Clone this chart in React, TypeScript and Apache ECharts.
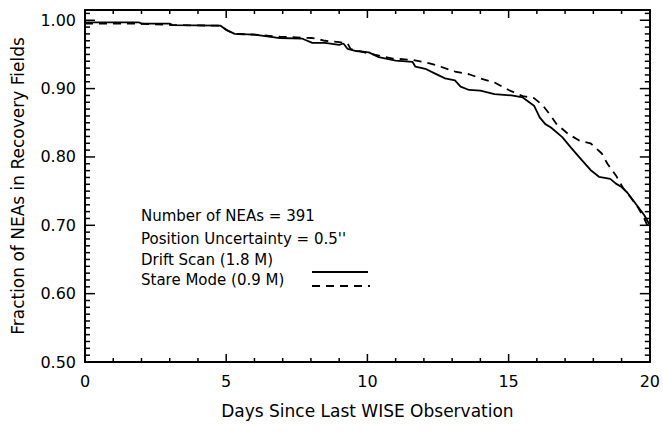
import React, { useEffect, useRef } from "react";
import * as echarts from "echarts";

const xMin = 0;
const xMax = 20;
const xMajorStep = 5;
const xMinorStep = 1;
const yMin = 0.5;
const yMax = 1.015;
const yMajorStep = 0.1;
const yMinorStep = 0.01;

const driftDays = [0, 1.9, 2.0, 3.0, 3.1, 4.8, 5.0, 5.3, 6.0, 6.9, 7.7, 8.05, 8.5, 9.0, 9.15, 9.3, 9.6, 10.05, 10.4, 11.0, 11.6, 11.7, 12.05, 12.4, 12.75, 13.1, 13.3, 13.6, 14.0, 14.5, 15.1, 15.5, 15.9, 16.1, 16.3, 16.5, 16.9, 17.2, 17.6, 17.9, 18.2, 18.6, 18.8, 19.0, 19.2, 19.4, 19.6, 19.8, 20.0];
const driftFrac = [0.997, 0.997, 0.995, 0.995, 0.993, 0.992, 0.986, 0.980, 0.979, 0.974, 0.973, 0.967, 0.967, 0.964, 0.966, 0.958, 0.955, 0.953, 0.946, 0.941, 0.939, 0.932, 0.929, 0.922, 0.915, 0.912, 0.903, 0.898, 0.897, 0.892, 0.890, 0.887, 0.875, 0.858, 0.848, 0.843, 0.829, 0.814, 0.795, 0.781, 0.771, 0.768, 0.761, 0.756, 0.748, 0.737, 0.726, 0.715, 0.700];

const stareDays = [0, 1.9, 3.1, 4.8, 5.0, 5.3, 6.0, 6.9, 8.05, 8.5, 9.0, 9.3, 9.4, 10.0, 10.9, 11.6, 12.2, 12.6, 13.1, 13.6, 14.0, 14.5, 15.0, 15.5, 15.9, 16.2, 16.5, 16.7, 17.1, 17.5, 17.9, 18.3, 18.5, 18.8, 19.05, 19.3, 19.6, 19.8, 20.0];
const stareFrac = [0.995, 0.995, 0.993, 0.992, 0.986, 0.980, 0.979, 0.976, 0.974, 0.970, 0.968, 0.966, 0.958, 0.952, 0.944, 0.942, 0.937, 0.932, 0.925, 0.921, 0.915, 0.909, 0.898, 0.889, 0.886, 0.876, 0.860, 0.848, 0.834, 0.824, 0.820, 0.805, 0.790, 0.773, 0.755, 0.742, 0.725, 0.710, 0.692];

const legendLines = [
  "Number of NEAs = 391",
  "Position Uncertainty = 0.5''",
  "Drift Scan (1.8 M)",
  "Stare Mode (0.9 M)",
];

const FONT = "DejaVu Sans";

// tick positions with pixel lengths
function xTickList(): number[][] {
  const out: number[][] = [];
  const nx = Math.round((xMax - xMin) / xMinorStep);
  const every = Math.round(xMajorStep / xMinorStep);
  for (let i = 0; i <= nx; i++) out.push([xMin + i * xMinorStep, i % every === 0 ? 8 : 4]);
  return out;
}
function yTickList(): number[][] {
  const out: number[][] = [];
  const ny = Math.floor((yMax - yMin) / yMinorStep + 1e-9);
  const every = Math.round(yMajorStep / yMinorStep);
  for (let i = 0; i <= ny; i++) out.push([yMin + i * yMinorStep, i % every === 0 ? 10 : 5]);
  return out;
}

export default function App() {
  const ref = useRef<HTMLDivElement>(null);
  useEffect(() => {
    if (!ref.current) return;
    const chart = echarts.init(ref.current, undefined, { renderer: "svg" });
    const black = "#000";
    const xAx = (pos: string, labels: boolean) => ({
      type: "value",
      position: pos,
      min: xMin,
      max: xMax,
      interval: xMajorStep,
      axisLine: { show: true, onZero: false, lineStyle: { color: black, width: 2 } },
      axisTick: { show: false },
      axisLabel: { show: labels, color: black, fontFamily: FONT, fontSize: 16, margin: 11 },
      splitLine: { show: false },
      ...(labels
        ? {
            name: "Days Since Last WISE Observation",
            nameLocation: "middle",
            nameGap: 40,
            nameTextStyle: { color: black, fontFamily: FONT, fontSize: 17 },
          }
        : {}),
    });
    const yAx = (pos: string, labels: boolean) => ({
      type: "value",
      position: pos,
      min: yMin,
      max: yMax,
      interval: yMajorStep,
      axisLine: { show: true, onZero: false, lineStyle: { color: black, width: 2 } },
      axisTick: { show: false },
      axisLabel: {
        show: labels,
        color: black,
        fontFamily: FONT,
        fontSize: 16,
        margin: 9,
        showMaxLabel: false,
        formatter: (v: number) => v.toFixed(2),
      },
      splitLine: { show: false },
      ...(labels
        ? {
            name: "Fraction of NEAs in Recovery Fields",
            nameLocation: "middle",
            nameRotate: 90,
            nameGap: 59,
            nameTextStyle: { color: black, fontFamily: FONT, fontSize: 17 },
          }
        : {}),
    });
    const lx = 141;
    const ly = [217, 240, 261, 281];
    const dataSeries = [
      {
        type: "line",
        name: "Drift Scan (1.8 M)",
        xAxisIndex: 0,
        yAxisIndex: 0,
        data: driftDays.map((d, i) => [d, driftFrac[i]]),
        showSymbol: false,
        lineStyle: { color: black, width: 1.8 },
      },
      {
        type: "line",
        name: "Stare Mode (0.9 M)",
        xAxisIndex: 0,
        yAxisIndex: 0,
        data: stareDays.map((d, i) => [d, stareFrac[i]]),
        showSymbol: false,
        lineStyle: { color: black, width: 1.8, type: [8, 6] },
      },
    ];
    chart.setOption({
      animation: false,
      backgroundColor: "#fff",
      grid: { left: 85, right: 11, top: 10, bottom: 73, containLabel: false },
      xAxis: [xAx("bottom", true), xAx("top", false)],
      yAxis: [yAx("left", true), yAx("right", false)],
      series: dataSeries,
      graphic: [
        ...legendLines.map((t, i) => ({
          type: "text",
          left: lx,
          top: ly[i] - 9,
          style: { text: t, fill: black, font: `15px "${FONT}"` },
        })),
        {
          type: "line",
          shape: { x1: 312, y1: 272, x2: 368, y2: 272 },
          style: { stroke: black, lineWidth: 1.8 },
        },
        {
          type: "line",
          shape: { x1: 312, y1: 286, x2: 370, y2: 286 },
          style: { stroke: black, lineWidth: 1.8, lineDash: [8, 6] },
        },
      ],
    });

    // convert tick lengths (pixels) into data units through the chart's own scales
    const finder = { xAxisIndex: 0, yAxisIndex: 0 };
    const pa = chart.convertToPixel(finder, [xMin, yMin]) as number[];
    const pb = chart.convertToPixel(finder, [xMax, yMax]) as number[];
    const perPxX = (xMax - xMin) / (pb[0] - pa[0]);
    const perPxY = (yMax - yMin) / (pa[1] - pb[1]);

    const tickLine = (pts: number[][]) => ({
      type: "line",
      xAxisIndex: 0,
      yAxisIndex: 0,
      data: pts,
      showSymbol: false,
      silent: true,
      clip: false,
      z: 4,
      emphasis: { disabled: true },
      lineStyle: { color: black, width: 1.5 },
    });
    const tickSeries: any[] = [];
    xTickList().forEach(([v, len]) => {
      tickSeries.push(tickLine([[v, yMin], [v, yMin + len * perPxY]]));
      tickSeries.push(tickLine([[v, yMax], [v, yMax - len * perPxY]]));
    });
    yTickList().forEach(([v, len]) => {
      tickSeries.push(tickLine([[xMin, v], [xMin + len * perPxX, v]]));
      tickSeries.push(tickLine([[xMax, v], [xMax - len * perPxX, v]]));
    });
    chart.setOption({ series: [...dataSeries, ...tickSeries] });

    return () => chart.dispose();
  }, []);
  return <div ref={ref} style={{ width: 663, height: 435, position: "absolute", left: 0, top: 0 }} />;
}
